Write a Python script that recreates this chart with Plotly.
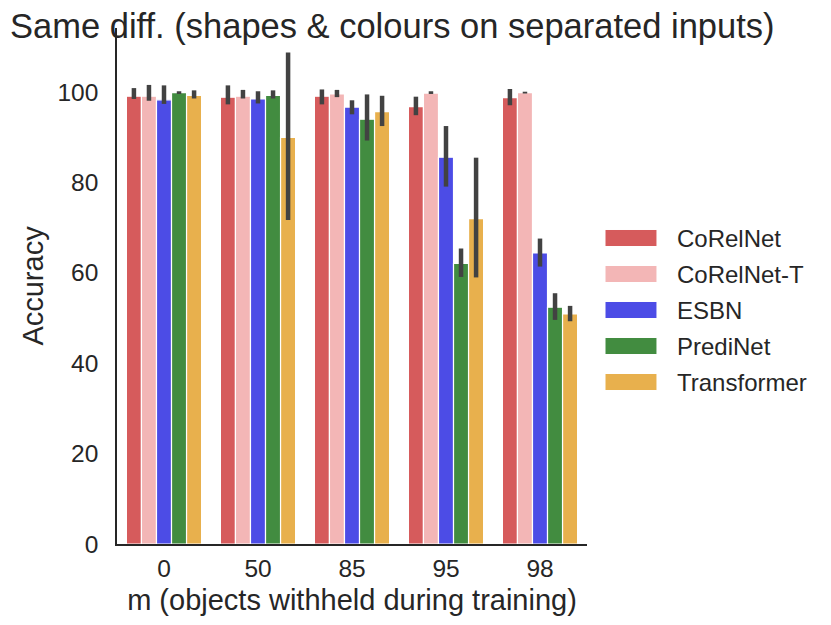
import plotly.graph_objects as go

categories = ["0", "50", "85", "95", "98"]
models = ["CoRelNet", "CoRelNet-T", "ESBN", "PrediNet", "Transformer"]
colors = ["#d65b5c", "#f3b6b6", "#4c4ce6", "#428c40", "#e8b04d"]

means = {
    "CoRelNet":    [99.1, 98.9, 99.1, 96.8, 98.8],
    "CoRelNet-T":  [99.1, 99.1, 99.6, 99.8, 99.9],
    "ESBN":        [98.3, 98.5, 96.7, 85.6, 64.4],
    "PrediNet":    [99.9, 99.3, 94.0, 62.1, 52.4],
    "Transformer": [99.3, 90.0, 95.7, 72.0, 50.9],
}
ci_low = {
    "CoRelNet":    [98.5, 97.3, 97.3, 94.9, 97.1],
    "CoRelNet-T":  [98.1, 98.6, 98.9, 99.6, 99.7],
    "ESBN":        [97.4, 97.5, 95.1, 79.1, 61.4],
    "PrediNet":    [99.6, 98.6, 89.3, 59.1, 49.6],
    "Transformer": [98.6, 71.7, 92.5, 59.0, 49.3],
}
ci_high = {
    "CoRelNet":    [100.9, 101.5, 100.6, 99.0, 100.7],
    "CoRelNet-T":  [101.6, 100.5, 100.5, 100.2, 100.1],
    "ESBN":        [101.5, 100.2, 98.2, 92.5, 67.6],
    "PrediNet":    [100.2, 100.4, 99.5, 65.4, 55.5],
    "Transformer": [100.4, 108.8, 99.2, 85.5, 52.7],
}

FONT = "Liberation Sans, Arial, sans-serif"
TXT = "#262626"

fig = go.Figure()
for m, c in zip(models, colors):
    mu = means[m]
    fig.add_trace(go.Bar(
        name=m, x=categories, y=mu,
        marker=dict(color=c, line=dict(color="white", width=1.2)),
        error_y=dict(
            type="data", symmetric=False,
            array=[h - v for h, v in zip(ci_high[m], mu)],
            arrayminus=[v - l for l, v in zip(ci_low[m], mu)],
            color="#424242", thickness=4.5, width=0,
        ),
        showlegend=False,
    ))

# manual legend (wide swatches like the reference)
row0 = 0.593
step = 36 / 516
for i, (m, c) in enumerate(zip(models, colors)):
    yc = row0 - i * step
    fig.add_shape(type="rect", xref="paper", yref="paper",
                  x0=1.0383, x1=1.1489, y0=yc - 0.0165, y1=yc + 0.0165,
                  fillcolor=c, line=dict(color="white", width=1))
    fig.add_annotation(xref="paper", yref="paper", x=1.188, y=yc,
                       text=m, showarrow=False, xanchor="left", yanchor="middle",
                       font=dict(size=24, color=TXT, family=FONT))

W, H = 823, 617
fig.update_layout(
    width=W, height=H,
    margin=dict(l=109, r=244, t=20, b=81),
    paper_bgcolor="white", plot_bgcolor="white",
    barmode="group", bargap=0.2, bargroupgap=0,
    font=dict(family=FONT, size=24, color=TXT),
    title=dict(text="Same diff. (shapes & colours on separated inputs)",
               xref="container", yref="container", x=2 / W, xanchor="left",
               y=1 - 18 / H, yanchor="middle",
               font=dict(size=34.5, color=TXT, family=FONT)),
    xaxis=dict(
        type="category", range=[-0.5, 4.5],
        showline=True, linecolor=TXT, linewidth=1.5, mirror=False,
        showgrid=False, ticks="", ticklabelstandoff=2,
        title=dict(text="m (objects withheld during training)", standoff=9,
                   font=dict(size=29, color=TXT)),
        tickfont=dict(size=24.5, color=TXT),
    ),
    yaxis=dict(
        range=[0, 114.2], tickvals=[0, 20, 40, 60, 80, 100],
        showline=True, linecolor=TXT, linewidth=1.5,
        showgrid=False, zeroline=False, ticks="", ticklabelstandoff=12,
        title=dict(text="Accuracy", standoff=5, font=dict(size=29, color=TXT)),
        tickfont=dict(size=24.5, color=TXT),
    ),
)

fig.write_html("out.html")
